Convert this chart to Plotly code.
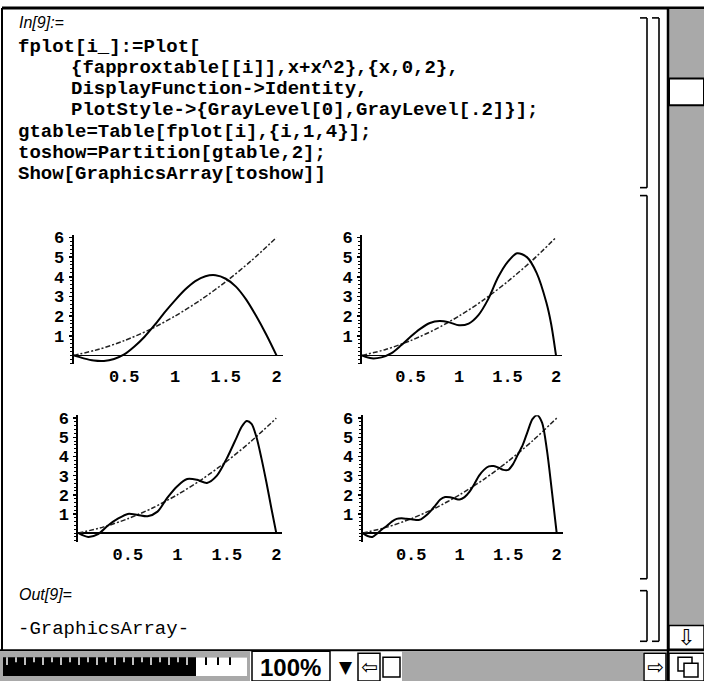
import plotly.graph_objects as go

W, H = 704, 681

# ---------------- data ----------------
target_x = [0, 0.25, 0.5, 0.75, 1.0, 1.25, 1.5, 1.75, 2.0]
target_y = [0, 0.31, 0.75, 1.31, 2.0, 2.81, 3.75, 4.81, 6.0]

approx1_x = [0, 0.1, 0.2, 0.3, 0.4, 0.5, 0.6, 0.7, 0.8, 0.9, 1.0, 1.1, 1.2, 1.3,
             1.4, 1.5, 1.6, 1.7, 1.8, 1.9, 2.0]
approx1_y = [0, -0.15, -0.26, -0.28, -0.18, 0.05, 0.45, 0.95, 1.55, 2.2, 2.8, 3.35,
             3.78, 4.03, 4.08, 3.9, 3.5, 2.85, 2.0, 1.05, 0]

approx2_x = [0, 0.1, 0.2, 0.3, 0.4, 0.5, 0.6, 0.7, 0.8, 0.9, 1.0, 1.1, 1.2, 1.3,
             1.4, 1.5, 1.6, 1.7, 1.8, 1.9, 1.95, 2.0]
approx2_y = [0, -0.15, -0.1, 0.1, 0.5, 0.95, 1.35, 1.65, 1.75, 1.68, 1.53, 1.62,
             2.05, 2.85, 3.95, 4.75, 5.2, 5.0, 4.2, 2.7, 1.6, 0]

approx3_x = [0, 0.1, 0.2, 0.3, 0.4, 0.5, 0.6, 0.7, 0.8, 0.9, 1.0, 1.1, 1.2, 1.3,
             1.4, 1.5, 1.6, 1.65, 1.7, 1.75, 1.8, 1.85, 1.9, 1.95, 2.0]
approx3_y = [0, -0.2, -0.05, 0.4, 0.75, 1.0, 0.95, 0.88, 1.12, 1.85, 2.45, 2.82,
             2.78, 2.62, 3.0, 3.9, 5.0, 5.55, 5.85, 5.7, 5.0, 3.9, 2.65, 1.3, 0]

approx4_x = [0, 0.05, 0.1, 0.15, 0.2, 0.25, 0.3, 0.35, 0.4, 0.45, 0.5, 0.55, 0.6,
             0.65, 0.7, 0.75, 0.8, 0.85, 0.9, 0.95, 1.0, 1.05, 1.1, 1.15, 1.2,
             1.25, 1.3, 1.35, 1.4, 1.45, 1.5, 1.55, 1.6, 1.65, 1.7, 1.75, 1.8,
             1.85, 1.9, 1.95, 2.0]
approx4_y = [0, -0.15, -0.2, -0.02, 0.2, 0.38, 0.6, 0.74, 0.77, 0.75, 0.72, 0.68,
             0.72, 0.9, 1.15, 1.45, 1.75, 1.88, 1.87, 1.8, 1.75, 1.88, 2.15, 2.55,
             3.0, 3.3, 3.48, 3.5, 3.42, 3.3, 3.3, 3.6, 4.1, 4.6, 5.3, 5.95, 6.15,
             5.75, 4.3, 2.2, 0]

x_tickvals = [0.5, 1, 1.5, 2]
x_ticktext = ["0.5", "1", "1.5", "2"]
y_tickvals = [1, 2, 3, 4, 5, 6]
y_ticktext = ["1", "2", "3", "4", "5", "6"]

code_lines = [
    ("fplot[i_]:=Plot[", 0),
    ("{fapproxtable[[i]],x+x^2},{x,0,2},", 1),
    ("DisplayFunction->Identity,", 1),
    ("PlotStyle->{GrayLevel[0],GrayLevel[.2]}];", 1),
    ("gtable=Table[fplot[i],{i,1,4}];", 0),
    ("toshow=Partition[gtable,2];", 0),
    ("Show[GraphicsArray[toshow]]", 0),
]

# ---------------- helpers ----------------
def px(x):
    return x / W

def py(y):
    return 1 - y / H

shapes = []
annotations = []

def line(x0, y0, x1, y1, w=1.5, color="black"):
    shapes.append(dict(type="line", xref="paper", yref="paper",
                       x0=px(x0), y0=py(y0), x1=px(x1), y1=py(y1),
                       line=dict(color=color, width=w)))

def rect(x0, y0, x1, y1, fill="white", lc="black", lw=1.5):
    shapes.append(dict(type="rect", xref="paper", yref="paper",
                       x0=px(x0), y0=py(y0), x1=px(x1), y1=py(y1),
                       fillcolor=fill, line=dict(color=lc, width=lw)))

def text(x, y, s, size=19, family="Liberation Mono", weight="normal",
         style="normal", xanchor="left", color="black"):
    annotations.append(dict(xref="paper", yref="paper", x=px(x), y=py(y),
                            text=s, showarrow=False, xanchor=xanchor,
                            yanchor="middle",
                            font=dict(family=family, size=size, weight=weight,
                                      style=style, color=color)))

# ---------------- plots ----------------
fig = go.Figure()

XR = [0, 2.06]
YR = [-0.45, 6.15]
panels = [
    # x0 pixel, px per unit, y0 pixel, px per unit, data
    (73.5, 101.5, 353, 19.8, approx1_x, approx1_y),
    (362, 97.0, 353, 19.8, approx2_x, approx2_y),
    (78.3, 99.0, 532, 19.3, approx3_x, approx3_y),
    (362.7, 97.0, 532, 19.3, approx4_x, approx4_y),
]

layout_axes = {}
for i, (x0p, sx, y0p, sy, ax_x, ax_y) in enumerate(panels, start=1):
    left = x0p + XR[0] * sx
    right = x0p + XR[1] * sx
    top = y0p - YR[1] * sy
    bottom = y0p - YR[0] * sy
    xa = "xaxis" if i == 1 else f"xaxis{i}"
    ya = "yaxis" if i == 1 else f"yaxis{i}"
    xr = "x" if i == 1 else f"x{i}"
    yr = "y" if i == 1 else f"y{i}"
    layout_axes[xa] = dict(
        domain=[px(left), px(right)], range=XR, anchor=yr,
        showgrid=False, zeroline=False, showline=False,
        tickvals=x_tickvals, ticktext=x_ticktext, ticks="",
        ticklabelstandoff=0,
        tickfont=dict(family="Liberation Mono", size=17, weight="bold",
                      color="black"),
        fixedrange=True,
    )
    layout_axes[ya] = dict(
        domain=[py(bottom), py(top)], range=YR, anchor=xr,
        showgrid=False, zeroline=True, zerolinecolor="black",
        zerolinewidth=1.6, showline=True, linecolor="black", linewidth=2,
        tickvals=y_tickvals, ticktext=y_ticktext, ticks="outside",
        ticklen=3, tickwidth=1.5, tickcolor="black",
        minor=dict(ticks="outside", dtick=0.2, ticklen=2, tickwidth=1,
                   tickcolor="black"),
        tickfont=dict(family="Liberation Mono", size=17, weight="bold",
                      color="black"),
        ticklabelstandoff=1,
        fixedrange=True,
    )
    fig.add_trace(go.Scatter(
        x=target_x, y=target_y, mode="lines", xaxis=xr, yaxis=yr,
        line=dict(color="#222222", width=1.5, dash="5px,2px,2px,2px",
                  shape="spline", smoothing=0.8),
        showlegend=False, hoverinfo="skip"))
    fig.add_trace(go.Scatter(
        x=ax_x, y=ax_y, mode="lines", xaxis=xr, yaxis=yr,
        line=dict(color="black", width=2, shape="spline", smoothing=0.8),
        showlegend=False, hoverinfo="skip"))

# ---------------- notebook window chrome ----------------
STIPPLE = "#a9a9a9"

# outer frame
line(2, 3, 704, 3, w=3)
line(2, 3, 2, 650, w=2)

# vertical scroll bar
rect(669, 4, 704, 625, fill=STIPPLE, lc=STIPPLE, lw=0)
line(668, 3, 668, 681, w=2.5)
rect(669, 74, 704, 101, fill="white", lc="black", lw=2)
rect(669, 625, 704, 649, fill="white", lc="black", lw=1.5)
text(686, 637, "⇩", size=22, family="DejaVu Sans", xanchor="center")

# cell brackets
def bracket(x, y0, y1, hook=7):
    line(x, y0, x, y1, w=1.6)
    line(x - hook, y0, x, y0, w=1.6)
    line(x - hook, y1, x, y1, w=1.6)

bracket(647, 13, 184)
bracket(647, 192, 578)
bracket(647, 590, 641)
bracket(659, 13, 641)

# bottom bar
line(0, 650, 704, 650, w=2)
rect(0, 651, 250, 681, fill=STIPPLE, lc=STIPPLE, lw=0)
rect(3, 657, 247, 676, fill="black", lc="black", lw=0)
for k in range(0, 28):
    xx = 7 + k * 9
    if xx > 190:
        break
    h = 8 if k % 2 == 0 else 5
    line(xx, 657, xx, 657 + h, w=1.5, color="white")
rect(196, 657, 247, 676, fill="white", lc="black", lw=0)
for xx in (206, 218, 230):
    line(xx, 657, xx, 665, w=2)
rect(252, 651, 330, 681, fill="white", lc="black", lw=1.5)
text(290, 667, "100%", size=24, family="Liberation Sans", weight="bold",
     xanchor="center")
text(346, 667, "▼", size=17, family="DejaVu Sans", xanchor="center")
rect(358, 653, 380, 681, fill="white", lc="black", lw=1.5)
text(369, 667, "⇦", size=20, family="DejaVu Sans", xanchor="center")
rect(383, 657, 400, 677, fill="white", lc="black", lw=1.5)
rect(402, 651, 643, 681, fill=STIPPLE, lc=STIPPLE, lw=0)
rect(644, 653, 666, 681, fill="white", lc="black", lw=1.5)
text(655, 667, "⇨", size=20, family="DejaVu Sans", xanchor="center")
rect(669, 653, 704, 681, fill="white", lc="black", lw=1.5)
rect(678, 657, 692, 671, fill="white", lc="black", lw=1.5)
rect(684, 663, 698, 677, fill="white", lc="black", lw=1.5)

# ---------------- notebook text ----------------
text(17, 18, "In[9]:=", size=16, family="Liberation Sans", style="italic")
y = 42
for s, indent in code_lines:
    text(16 if indent == 0 else 69, y, s, size=19, family="Liberation Mono",
         weight="bold")
    y += 21.4
text(17, 594, "Out[9]=", size=16, family="Liberation Sans", style="italic")
text(16, 629, "-GraphicsArray-", size=19, family="Liberation Mono")

fig.update_layout(
    width=W, height=H,
    margin=dict(l=0, r=0, t=0, b=0),
    paper_bgcolor="white", plot_bgcolor="rgba(0,0,0,0)",
    showlegend=False,
    shapes=shapes, annotations=annotations,
    **layout_axes,
)

fig.write_html(
    "out.html",
    config={"displayModeBar": False, "staticPlot": True},
    post_script="document.body.style.margin='0';"
                "document.body.style.padding='0';"
                "document.body.style.overflow='hidden';",
)
